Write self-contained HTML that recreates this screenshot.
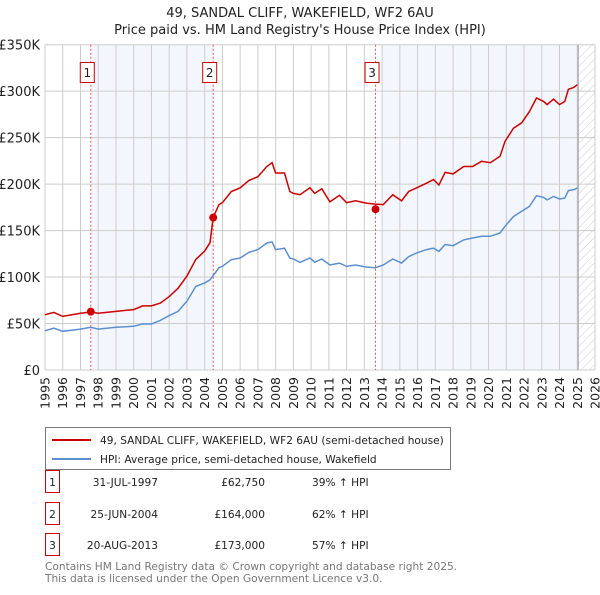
<!DOCTYPE html>
<html><head><meta charset="utf-8"><style>
body{margin:0;background:#fff;font-family:"Liberation Sans","DejaVu Sans",sans-serif;}
svg text{font-family:"DejaVu Sans","Liberation Sans",sans-serif;}
</style></head><body>
<svg id="chart" width="600" height="590" xmlns="http://www.w3.org/2000/svg">
<defs><pattern id="hatch" width="6" height="6" patternUnits="userSpaceOnUse" patternTransform="rotate(45)"><line x1="0" y1="0" x2="0" y2="6" stroke="#ccc" stroke-width="1"/></pattern></defs>
<text x="300" y="17" text-anchor="middle" font-size="13" fill="#222">49, SANDAL CLIFF, WAKEFIELD, WF2 6AU</text>
<text x="300" y="34" text-anchor="middle" font-size="13" fill="#222">Price paid vs. HM Land Registry's House Price Index (HPI)</text>
<g id="plot"></g>
<g>
<rect x="45.5" y="427.5" width="405" height="42" fill="#fff" stroke="#777"/>
<line x1="52" y1="440" x2="91" y2="440" stroke="#cc0000" stroke-width="2"/>
<text x="100" y="444" font-size="10.6" fill="#222">49, SANDAL CLIFF, WAKEFIELD, WF2 6AU (semi-detached house)</text>
<line x1="52" y1="459" x2="91" y2="459" stroke="#5b8fd0" stroke-width="2"/>
<text x="100" y="463" font-size="10.6" fill="#222">HPI: Average price, semi-detached house, Wakefield</text>
</g>
<g id="table" font-size="10.6" fill="#222"></g>
<text x="45" y="570" font-size="10.6" fill="#777">Contains HM Land Registry data © Crown copyright and database right 2025.</text>
<text x="45" y="582" font-size="10.6" fill="#777">This data is licensed under the Open Government Licence v3.0.</text>
</svg>
<script>
const yTicks=[0,50,100,150,200,250,300,350];
const yTickLabels=["£0","£50K","£100K","£150K","£200K","£250K","£300K","£350K"];
const xYears=[1995,1996,1997,1998,1999,2000,2001,2002,2003,2004,2005,2006,2007,2008,2009,2010,2011,2012,2013,2014,2015,2016,2017,2018,2019,2020,2021,2022,2023,2024,2025,2026];
const redT=[1995,1995.5,1996,1997,1997.58,1998,1999,2000,2000.5,2001,2001.5,2002,2002.5,2003,2003.5,2004,2004.3,2004.48,2004.8,2005,2005.5,2006,2006.5,2007,2007.5,2007.8,2008,2008.5,2008.8,2009,2009.37,2009.93,2010.2,2010.6,2011.06,2011.6,2012,2012.5,2013.1,2013.6,2014.07,2014.6,2015.1,2015.5,2015.95,2016.5,2016.9,2017.2,2017.55,2018,2018.6,2019.1,2019.6,2020.1,2020.65,2020.93,2021.4,2021.87,2022.3,2022.7,2023.1,2023.3,2023.66,2024,2024.3,2024.5,2024.8,2025];
const redV=[59.5,62,57.7,61,62.4,61,63,65,69,69,72,79,88,101,119,128,137,164,178,180,192,196,204,208,219,223,212,212,192,190,188.6,196,190,195,181,188,180,182,179.6,178.5,178,188.6,182,192,196,201,205,199,212.6,211,219,219,224.5,223,230,246,260,266,278,292.6,289,285.5,291.5,285.5,289,302,304,307];
const blueV=[42.3,45,41.6,44,45.9,44,46,47,49.5,49.5,53.4,58.5,63,74,90,93.6,97,101.5,110,111.5,118.7,120.5,126.6,129.5,136.6,137.7,129.5,131,120.5,119.4,115.8,120.5,116,119.4,113,115,111.5,113,110.8,110,113,119.4,115,122,126,129.5,131,127.6,135,133.7,140,142,143.8,143.8,147.4,154.6,165,170.7,176,187.5,185.7,183,186.8,184,185,193,194,195.7];
const saleT=[1997.58,2004.48,2013.63];
const saleV=[62.75,164,173];
const saleLabels=["1","2","3"];
const saleDates=["31-JUL-1997","25-JUN-2004","20-AUG-2013"];
const salePrices=["£62,750","£164,000","£173,000"];
const saleHpi=["39% ↑ HPI","62% ↑ HPI","57% ↑ HPI"];
const X0=45,X1=595,Y0=370,Y1=44.7;
const xs=t=>X0+(t-1995)/31*(X1-X0);
const ys=v=>Y0-v/350*(Y0-Y1);
const NS="http://www.w3.org/2000/svg";
function mk(tag,attrs,parent,txt){const e=document.createElementNS(NS,tag);for(const k in attrs)e.setAttribute(k,attrs[k]);if(txt!==undefined)e.textContent=txt;parent.appendChild(e);return e;}
const g=document.getElementById('plot');
let r=mk('rect',{x:xs(saleT[0]),y:Y1,width:xs(saleT[1])-xs(saleT[0]),height:Y0-Y1,fill:'#eef3fc',opacity:0.7},g);


r=mk('rect',{x:xs(2014),y:Y1,width:xs(2025.05)-xs(2014),height:Y0-Y1,fill:'#eef3fc',opacity:0.7},g);


r=mk('rect',{x:xs(2025.05),y:Y1,width:X1-xs(2025.05),height:Y0-Y1,fill:'url(#hatch)'},g);


xYears.forEach(yr=>{
 const l=mk('line',{x1:xs(yr),x2:xs(yr),y1:Y1,y2:Y0,stroke:'#ccc','stroke-width':1},g);
 
 
 const x=xs(yr)+4.5;
 const t=mk('text',{x:x,y:377,transform:`rotate(-90 ${x} 377)`,'text-anchor':'end','font-size':12.5,fill:'#222'},g,String(yr));
 
 
});
yTicks.forEach((v,i)=>{
 const l=mk('line',{x1:X0,x2:X1,y1:ys(v),y2:ys(v),stroke:'#ccc','stroke-width':1},g);
 
 
 const t=mk('text',{x:40,y:ys(v)+5,'text-anchor':'end','font-size':13,fill:'#222'},g,yTickLabels[i]);
 
 
});
r=mk('line',{x1:xs(2025.05),x2:xs(2025.05),y1:Y1,y2:Y0,stroke:'#999','stroke-width':1},g);


saleT.forEach((t,i)=>{
 const l=mk('line',{x1:xs(t),x2:xs(t),y1:Y1,y2:Y0,stroke:'#e55','stroke-width':1,'stroke-dasharray':'2,2'},g);
 
 
 const b=mk('rect',{x:xs(t)-10.5,y:62.5,width:14,height:20,fill:'#fff',stroke:'#cc0000'},g);
 
 
 mk('text',{x:xs(t)-3.5,y:77,'text-anchor':'middle','font-size':12,fill:'#222'},g,saleLabels[i]);
});
const pts=(vals)=>redT.map((t,i)=>xs(t).toFixed(1)+','+ys(vals[i]).toFixed(1)).join(' ');
let p=mk('polyline',{points:pts(blueV),fill:'none',stroke:'#5b8fd0','stroke-width':1.5},g);


p=mk('polyline',{points:pts(redV),fill:'none',stroke:'#cc0000','stroke-width':1.5},g);


saleT.forEach((t,i)=>{
 const c=mk('circle',{cx:xs(t),cy:ys(saleV[i]),r:4,fill:'#cc0000'},g);
 
 
});
const tb=document.getElementById('table');
const rowY=[482,514,545];
saleLabels.forEach((s,i)=>{
 const y=rowY[i];
 const b=mk('rect',{x:45.5,y:y-11.5,width:14,height:22,fill:'#fff',stroke:'#cc0000'},tb);
 
 
 mk('text',{x:52.5,y:y+4,'text-anchor':'middle'},tb,s);
 let t=mk('text',{x:158,y:y+4,'text-anchor':'end'},tb,saleDates[i]);
 
 
 t=mk('text',{x:265,y:y+4,'text-anchor':'end'},tb,salePrices[i]);
 
 
 t=mk('text',{x:312,y:y+4},tb,saleHpi[i]);
 
 
});
</script>
</body></html>
